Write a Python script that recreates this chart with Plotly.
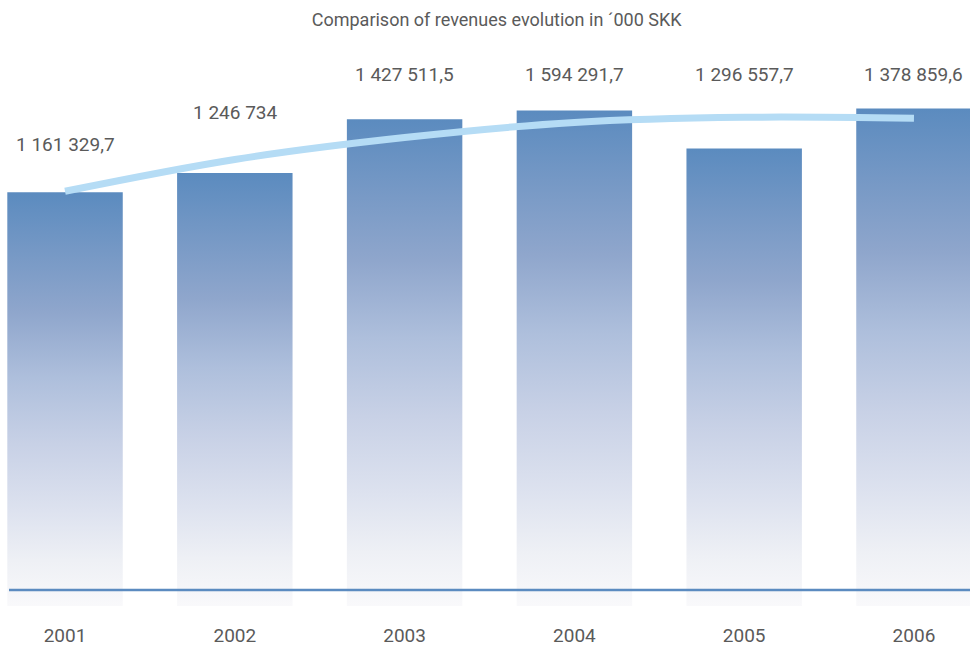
import plotly.graph_objects as go

# ---- data ----
years = ["2001", "2002", "2003", "2004", "2005", "2006"]
revenue_labels = ["1 161 329,7", "1 246 734", "1 427 511,5", "1 594 291,7", "1 296 557,7", "1 378 859,6"]
# bar heights as drawn in the picture ('000 SKK, estimated)
bar_heights = [1161, 1217, 1374, 1400, 1289, 1406]
# trend curve values as drawn ('000 SKK, estimated)
trend_values = [1164, 1257, 1321, 1365, 1380, 1377]

# ---- styling ----
FONT = "Roboto, sans-serif"
TEXT = "#5a5a5a"
BAR_W = 0.68
BAR_BASE = -47
grad = [[0.0, "#f9f9fb"], [0.11, "#eef0f5"], [0.23, "#dde2ef"], [0.39, "#c8d1e6"],
        [0.55, "#aebfdc"], [0.71, "#8fa6cc"], [0.86, "#7598c5"], [1.0, "#5b8bbf"]]
label_rows = [1301, 1394, 1505, 1505, 1505, 1505]

fig = go.Figure()
for i, h in enumerate(bar_heights):
    x0, x1 = i - BAR_W / 2, i + BAR_W / 2
    fig.add_trace(go.Scatter(
        x=[x0, x1, x1, x0, x0], y=[BAR_BASE, BAR_BASE, h, h, BAR_BASE],
        fill="toself", mode="none",
        fillgradient=dict(type="vertical", colorscale=grad),
        hoverinfo="skip", showlegend=False))

fig.add_trace(go.Scatter(
    x=list(range(len(years))), y=trend_values, mode="lines",
    line=dict(color="#b5dcf5", width=7, shape="spline", smoothing=1.0),
    hoverinfo="skip", showlegend=False))

for i, (lab, ly) in enumerate(zip(revenue_labels, label_rows)):
    fig.add_annotation(x=i, y=ly, text=lab, showarrow=False,
                       font=dict(family=FONT, size=19, color=TEXT),
                       xanchor="center", yanchor="middle")

fig.add_shape(type="line", xref="paper", yref="y", x0=9 / 970, x1=1, y0=0, y1=0,
              line=dict(color="#5b8bc0", width=2.5), layer="above")

fig.update_layout(
    width=970, height=647,
    margin=dict(l=0, r=0, t=0, b=39),
    paper_bgcolor="white", plot_bgcolor="white",
    title=dict(text="Comparison of revenues evolution in ´000 SKK",
               x=0.512, xanchor="center", y=1 - 20 / 647, yanchor="middle",
               font=dict(family=FONT, size=18, color=TEXT)),
    xaxis=dict(range=[-0.383, 5.33], tickmode="array",
               tickvals=list(range(len(years))), ticktext=years,
               showgrid=False, zeroline=False, showline=False, ticks="",
               ticklabelstandoff=16,
               tickfont=dict(family=FONT, size=19, color=TEXT), fixedrange=True),
    yaxis=dict(range=[BAR_BASE, 1722.5], visible=False, showgrid=False,
               zeroline=False, fixedrange=True),
    hovermode=False,
)

fig.write_html("out.html", config={"displayModeBar": False},
               post_script="document.body.style.margin='0';document.body.style.overflow='hidden';")
